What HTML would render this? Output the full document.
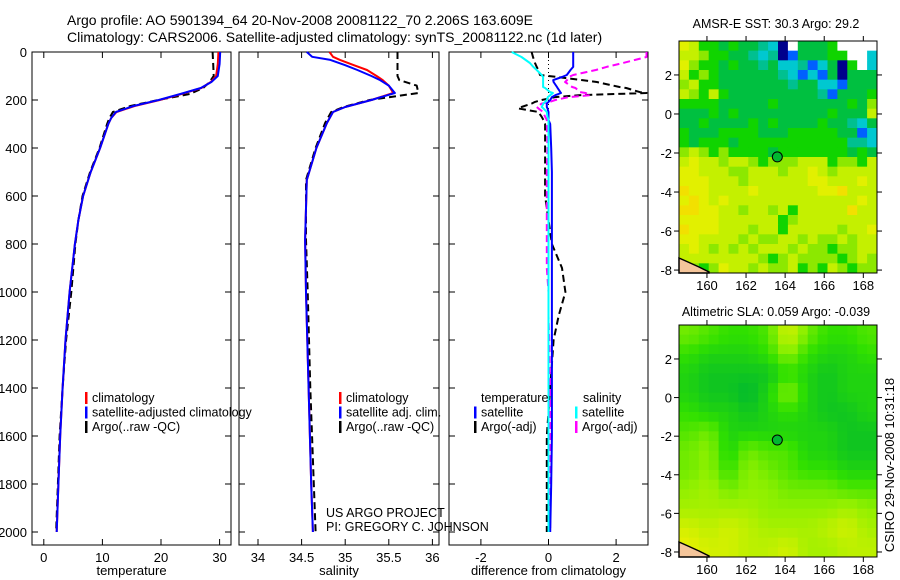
<!DOCTYPE html>
<html><head><meta charset="utf-8"><style>
html,body{margin:0;padding:0;background:#fff;}
svg{display:block;font-family:"Liberation Sans",sans-serif;}
text{fill:#000;}
</style></head><body>
<svg id="fig" width="900" height="580" viewBox="0 0 900 580" xmlns="http://www.w3.org/2000/svg">
<text x="67" y="25" font-size="14">Argo profile: AO 5901394_64 20-Nov-2008 20081122_70 2.206S 163.609E</text>
<text x="67" y="42" font-size="14">Climatology: CARS2006. Satellite-adjusted climatology: synTS_20081122.nc (1d later)</text>
<g id="p1"></g>
<g id="p2"></g>
<g id="p3"></g>
<g id="m1"></g>
<g id="m2"></g>
<text transform="translate(894,465) rotate(-90)" text-anchor="middle" font-size="13">CSIRO 29-Nov-2008 10:31:18</text>
</svg>
<script>
// ---- data ----
const depthTicks = [0,200,400,600,800,1000,1200,1400,1600,1800,2000];
const tempTicks = [0,10,20,30];
const salTicks = [34,34.5,35,35.5,36];
const salTickLabels = ["34","34.5","35","35.5","36"];
const diffTicks = [-2,0,2];
const diffTickLabels = ["-2","0","2"];
const tDepth = [0,50,100,125,150,175,200,225,250,275,300,400,500,600,700,800,1000,1200,1400,1600,1800,2000];
const tClim  = [29.8,29.7,29.4,28.5,26.9,23.5,19.8,15.5,12.4,11.5,11.0,9.6,8.0,6.7,5.9,5.3,4.4,3.7,3.2,2.8,2.5,2.2];
const tSat   = [30.1,30.0,29.7,28.6,26.8,23.3,19.6,15.3,12.3,11.5,11.0,9.6,8.0,6.7,5.9,5.3,4.4,3.7,3.2,2.8,2.5,2.2];
const tArgo  = [28.8,28.9,29.0,28.3,27.2,24.9,19.5,14.8,11.8,11.2,10.8,9.5,7.9,6.6,5.9,5.4,4.7,3.8,3.2,2.7,2.4,2.1];
const sDepth = [0,20,33,55,75,100,117,140,171,200,229,250,296,400,533,783,1000,1400,1800,2000];
const sClim  = [34.82,34.86,34.94,35.1,35.25,35.36,35.43,35.5,35.55,35.3,35.0,34.86,34.79,34.67,34.56,34.54,34.55,34.58,34.61,34.63];
const sSat   = [34.56,34.62,34.83,35.0,35.14,35.3,35.4,35.5,35.57,35.3,35.0,34.86,34.79,34.67,34.56,34.54,34.55,34.58,34.61,34.63];
const sArgo  = [35.6,35.6,35.6,35.6,35.6,35.6,35.62,35.82,35.84,35.28,34.98,34.84,34.77,34.66,34.55,34.55,34.57,34.6,34.64,34.66];
const dDepth = [0,21,46,62,75,96,104,117,125,146,150,167,171,180,188,200,208,215,229,235,250,270,283,300,400,500,600,800,900,1000,1100,1200,1400,1600,1800,2000];
const dTsat  = [0.73,0.73,0.73,0.73,0.65,0.54,0.4,0.14,0.15,0.25,0.27,0.35,0.37,0.2,0.1,0.05,0.0,-0.05,-0.05,-0.03,0.0,0.0,0.0,0.05,0.08,0.1,0.1,0.1,0.1,0.1,0.1,0.1,0.1,0.1,0.08,0.05];
const dSsat  = [-1.09,-0.8,-0.55,-0.45,-0.35,-0.2,-0.16,-0.16,-0.16,-0.16,-0.1,0.05,0.13,0.05,-0.02,-0.05,-0.1,-0.15,-0.2,-0.15,-0.05,-0.03,0.0,0.0,0.0,0.0,0.0,0.0,0.0,0.0,0.0,0.0,0.0,0.0,0.0,0.0];
const dTargo = [-0.5,-0.46,-0.4,-0.35,-0.3,-0.25,0.25,1.0,1.43,2.1,2.3,2.7,2.9,0.9,0.2,-0.2,-0.4,-0.5,-0.8,-0.9,-0.3,-0.2,-0.15,-0.1,-0.1,-0.1,-0.1,0.1,0.4,0.5,0.3,0.15,0.05,-0.05,-0.05,-0.05];
const dSargo = [2.9,2.9,2.2,1.72,1.4,0.73,0.6,0.55,0.49,0.7,0.8,0.93,1.1,1.23,0.6,0.2,0.04,-0.2,-0.35,-0.3,-0.16,-0.1,-0.05,-0.05,-0.03,-0.05,-0.05,-0.05,-0.05,0.0,0.0,0.02,0.05,0.05,0.05,0.05];
const lonTicks = [160,162,164,166,168];
const latTicks = [2,0,-2,-4,-6,-8];
const floatLon = 163.6, floatLat = -2.2;
const sstGrid = [
"YLGGDGDDTCNWDDDGWWWW",
"LLMGGDDTCTNBDDDGGWWC",
"YMGGDGDDTDCCTBCDNGWC",
"LGMGDDDDDDTCBCBDNDDD",
"MLGGDDDDDDDTDDCCBDDD",
"LMGLGDDDDDDDDDTBDDDG",
"GGGGDDDDDGDDDDDDDGDM",
"DDDGDGDDDDDDDDDGDDDL",
"DDGDDDDGDGDDDDGDDTCD",
"GDDDGGGGDDDGGGGGDDBC",
"GDGGGDGGGGGGGGGGGTTC",
"MLMGMGGGGDGGGGGGGDGD",
"LYLLMLLMGMMMLLLGMMGL",
"YYLLLMMLLLMLLYLMLLLL",
"YYYLLLMLLLLLLYYLLLYL",
"OYYLLLLYLLLLLLYYOLLL",
"YOYLYLLLLLLLLLLLLLYL",
"OOYYLLMLLMLGLLLLLOLL",
"YYYYLLLLLLGMLLLLLLLL",
"OYYYLLLMLLGLLLLLMLLY",
"YYLLLLMLMMLLMLMMLMLL",
"LYLMLMLMLLLMLMMGMMLL",
"LLLLLLLLMGMLMMMMGMLM",
"YMGMYLLMLMMLGMGLMGMM"];
const slaGrid = [
[0.5,0.4,0.3,0.3,0.4,0.9,0.5,0.3,0.3,0.4],
[0.3,0.2,0.2,0.2,0.3,0.6,0.3,0.2,0.2,0.3],
[0.2,0.1,0.1,0.1,0.1,0.3,0.2,0.1,0.2,0.2],
[0.2,0.1,0.1,0.0,0.2,0.6,0.2,0.1,0.2,0.2],
[0.3,0.2,0.2,0.1,0.2,0.3,0.2,0.1,0.1,0.2],
[0.4,0.5,0.2,0.2,0.2,0.2,0.2,0.2,0.1,0.1],
[0.5,0.6,0.2,0.5,0.4,0.4,0.2,0.2,0.1,0.1],
[0.5,0.6,0.3,0.6,0.5,0.4,0.3,0.3,0.2,0.2],
[0.6,0.7,0.5,0.6,0.6,0.5,0.5,0.5,0.4,0.4],
[0.7,0.7,0.7,0.7,0.6,0.6,0.6,0.6,0.7,0.6],
[0.9,0.8,0.9,0.8,0.7,0.7,0.7,0.8,0.9,0.7],
[1.0,0.9,0.9,0.8,0.8,0.9,0.7,0.7,0.8,0.8]];

// ---- helpers ----
const NS = "http://www.w3.org/2000/svg";
function mk(tag, parent, attrs){ const e=document.createElementNS(NS,tag); for(const k in attrs) e.setAttribute(k,attrs[k]); parent.appendChild(e); return e; }
const yD = d => 52 + d*0.24;
const PT = 52, PB = 545;

function panel(g, x0, x1, xs, ticks, labels, xlabel, showY){
  const fr = mk('rect', g, {x:x0, y:PT, width:x1-x0, height:PB-PT, fill:'none', stroke:'#000','stroke-width':1});
  
  
  ticks.forEach((v,i)=>{
    const x = xs(v);
    const t1 = mk('line', g, {x1:x,x2:x,y1:PB,y2:PB-6,stroke:'#000'});
    
    
    const t2 = mk('line', g, {x1:x,x2:x,y1:PT,y2:PT+6,stroke:'#000'});
    
    
    const tl = mk('text', g, {x:x,y:PB+17,'text-anchor':'middle','font-size':13});
    tl.textContent = labels[i];
    
    
  });
  const xl = mk('text', g, {x:(x0+x1)/2,y:575,'text-anchor':'middle','font-size':13});
  xl.textContent = xlabel;
  
  
  depthTicks.forEach(d=>{
    const y = yD(d);
    const a = mk('line', g, {x1:x0,x2:x0+6,y1:y,y2:y,stroke:'#000'});
    
    
    const b = mk('line', g, {x1:x1,x2:x1-6,y1:y,y2:y,stroke:'#000'});
    
    
    if(showY){
      const t = mk('text', g, {x:27,y:y+5,'text-anchor':'end','font-size':13});
      t.textContent = d;
      
      
    }
  });
}
function prof(g, depths, vals, xs, color, dash, name){
  const pts = depths.map((d,i)=>xs(vals[i]).toFixed(1)+','+yD(d).toFixed(1)).join(' ');
  const p = mk('polyline', g, {points:pts, fill:'none', stroke:color, 'stroke-width':2, 'stroke-dasharray':dash||'none','stroke-linejoin':'round'});
  
  
}
function legend(g, x, y, items){
  items.forEach((it,i)=>{
    const yy = y + i*14.5;
    const m = mk('rect', g, {x:x, y:yy-10, width:2.5, height:12, fill:it[1]});
    
    
    const t = mk('text', g, {x:x+7, y:yy, 'font-size':12.5});
    t.textContent = it[0];
    
    
  });
}

// panel 1
const p1 = document.getElementById('p1');
const xT = v => 43.8 + v*5.86;
panel(p1, 32, 231, xT, tempTicks, tempTicks.map(String), 'temperature', true);
prof(p1, tDepth, tArgo, xT, '#000', '7,4', 'argo-temperature-line');
prof(p1, tDepth, tClim, xT, '#f00', null, 'climatology-temperature-line');
prof(p1, tDepth, tSat, xT, '#00f', null, 'satellite-temperature-line');
legend(p1, 85, 402, [['climatology','#f00'],['satellite-adjusted climatology','#00f'],['Argo(..raw -QC)','#000']]);

// panel 2
const p2 = document.getElementById('p2');
const xS = v => 258 + (v-34)*87.2;
panel(p2, 239, 439, xS, salTicks, salTickLabels, 'salinity', false);
prof(p2, sDepth, sArgo, xS, '#000', '7,4', 'argo-salinity-line');
prof(p2, sDepth, sClim, xS, '#f00', null, 'climatology-salinity-line');
prof(p2, sDepth, sSat, xS, '#00f', null, 'satellite-salinity-line');
legend(p2, 339, 402, [['climatology','#f00'],['satellite adj. clim.','#00f'],['Argo(..raw -QC)','#000']]);
const c1 = mk('text', p2, {x:326,y:517,'font-size':12.5}); c1.textContent='US ARGO PROJECT';


const c2 = mk('text', p2, {x:326,y:531,'font-size':12.5}); c2.textContent='PI: GREGORY C. JOHNSON';



// panel 3
const p3 = document.getElementById('p3');
const xDf = v => 548.5 + v*33.8;
panel(p3, 449, 648, xDf, diffTicks, diffTickLabels, 'difference from climatology', false);
const zl = mk('line', p3, {x1:xDf(0),x2:xDf(0),y1:PT,y2:yD(2000),stroke:'#000','stroke-dasharray':'1,3'});


prof(p3, dDepth, dTargo, xDf, '#000', '7,4', 'argo-temperature-diff-line');
prof(p3, dDepth, dSargo, xDf, '#f0f', '7,4', 'argo-salinity-diff-line');
prof(p3, dDepth, dTsat, xDf, '#00f', null, 'satellite-temperature-diff-line');
prof(p3, dDepth, dSsat, xDf, '#0ff', null, 'satellite-salinity-diff-line');
const h1 = mk('text', p3, {x:481,y:402,'font-size':12.5}); h1.textContent='temperature';


const h2 = mk('text', p3, {x:583,y:402,'font-size':12.5}); h2.textContent='salinity';


legend(p3, 474, 416.5, [['satellite','#00f'],['Argo(-adj)','#000']]);
legend(p3, 575, 416.5, [['satellite','#0ff'],['Argo(-adj)','#f0f']]);

// maps
function mapFrame(g, top, bottom, latTop, latBot, title, titleY){
  const L=679, R=877, lonL=158.57, lonR=168.7;
  const xs = lo => L + (lo-lonL)/(lonR-lonL)*(R-L);
  const ys = la => top + (latTop-la)/(latTop-latBot)*(bottom-top);
  return {L,R,xs,ys,finish:()=>{
    const fr = mk('rect', g, {x:L,y:top,width:R-L,height:bottom-top,fill:'none',stroke:'#000'});
    
    
    lonTicks.forEach(lo=>{
      const x=xs(lo);
      const a=mk('line',g,{x1:x,x2:x,y1:bottom,y2:bottom+5,stroke:'#000'});
      
      
      const b=mk('line',g,{x1:x,x2:x,y1:top,y2:top-5,stroke:'#000'});
      
      
      const t=mk('text',g,{x:x,y:bottom+17,'text-anchor':'middle','font-size':13}); t.textContent=lo;
      
      
    });
    latTicks.forEach(la=>{
      const y=ys(la);
      const a=mk('line',g,{x1:L-5,x2:L,y1:y,y2:y,stroke:'#000'});
      
      
      const b=mk('line',g,{x1:R,x2:R+5,y1:y,y2:y,stroke:'#000'});
      
      
      const t=mk('text',g,{x:L-7,y:y+5,'text-anchor':'end','font-size':13}); t.textContent=la;
      
      
    });
    const tt=mk('text',g,{x:(L+R)/2-2,y:titleY,'text-anchor':'middle','font-size':12.5}); tt.textContent=title;
    
    
    const cx=mk('polygon',g,{points:[[L,bottom-15],[L+9,bottom-11],[L+20,bottom-6],[L+30,bottom-1],[L+30,bottom],[L,bottom]].map(p=>p.join(',')).join(' '),fill:'#f5c59a',stroke:'#000','stroke-width':1.5});
    
    
    const fm=mk('circle',g,{cx:xs(floatLon),cy:ys(floatLat),r:5,fill:'#00b830',stroke:'#000','stroke-width':1});
    
    
  }};
}
const sstColors = {Y:'#e2f000',O:'#f2e000',L:'#c4f000',M:'#8ce800',G:'#10d400',D:'#00c040',T:'#00c090',C:'#00c8d0',B:'#0060ff',N:'#00008c',W:'#ffffff'};
const m1 = document.getElementById('m1');
const f1 = mapFrame(m1, 41, 273, 3.74, -8.15, 'AMSR-E SST: 30.3 Argo: 29.2', 28);
const nr = sstGrid.length, nc = sstGrid[0].length;
const cw = (f1.R-f1.L)/nc, ch = (273-41)/nr;
sstGrid.forEach((row,r)=>{ for(let c=0;c<nc;c++){
  const cell=mk('rect',m1,{x:(f1.L+c*cw).toFixed(2),y:(41+r*ch).toFixed(2),width:(cw+0.4).toFixed(2),height:(ch+0.4).toFixed(2),fill:sstColors[row[c]]});
  
  
}});
f1.finish();

function slaColor(v){
  const stops=[[0,[0,184,48]],[0.3,[48,224,0]],[0.6,[144,240,0]],[1,[232,240,0]]];
  for(let i=1;i<stops.length;i++){ if(v<=stops[i][0]){ const a=stops[i-1],b=stops[i],t=(v-a[0])/(b[0]-a[0]);
    return 'rgb('+a[1].map((x,k)=>Math.round(x+(b[1][k]-x)*t)).join(',')+')'; } }
  return 'rgb(232,240,0)';
}
const m2 = document.getElementById('m2');
const f2 = mapFrame(m2, 325, 557, 3.76, -8.26, 'Altimetric SLA: 0.059 Argo: -0.039', 316);
const SR=24, SC=20, gr=slaGrid.length, gc=slaGrid[0].length;
const sw=(f2.R-f2.L)/SC, sh=(557-325)/SR;
for(let r=0;r<SR;r++) for(let c=0;c<SC;c++){
  const fy=Math.min(gr-1,Math.max(0,(r+0.5)/SR*gr-0.5)), fx=Math.min(gc-1,Math.max(0,(c+0.5)/SC*gc-0.5));
  const y0=Math.floor(fy), x0=Math.floor(fx), y1=Math.min(gr-1,y0+1), x1=Math.min(gc-1,x0+1), ty=fy-y0, tx=fx-x0;
  const v=(slaGrid[y0][x0]*(1-tx)+slaGrid[y0][x1]*tx)*(1-ty)+(slaGrid[y1][x0]*(1-tx)+slaGrid[y1][x1]*tx)*ty;
  const cell=mk('rect',m2,{x:(f2.L+c*sw).toFixed(2),y:(325+r*sh).toFixed(2),width:(sw+0.4).toFixed(2),height:(sh+0.4).toFixed(2),fill:slaColor(v)});
  
  
}
f2.finish();
</script>
</body></html>
